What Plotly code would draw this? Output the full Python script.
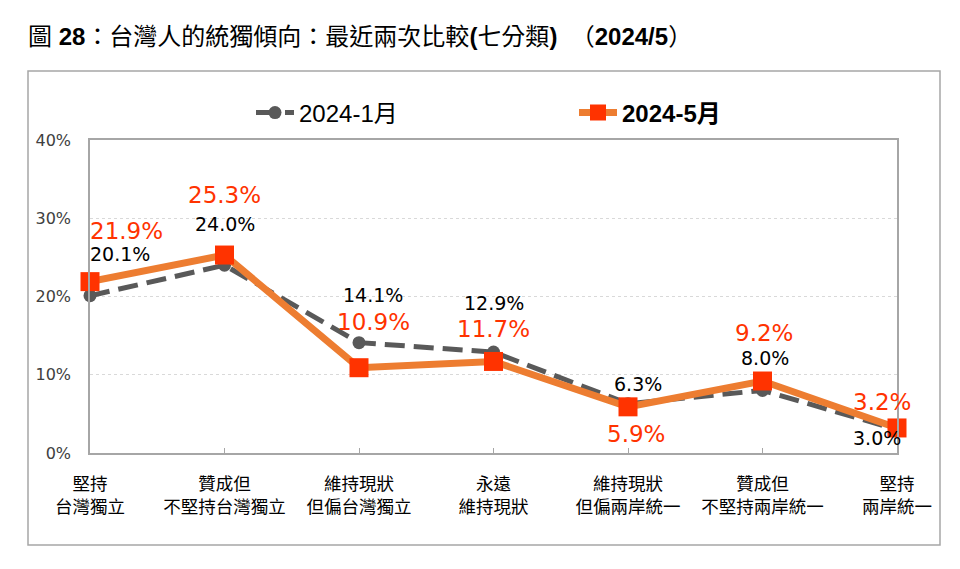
import plotly.graph_objects as go

# ---------------- data ----------------
categories_line1 = ["堅持", "贊成但", "維持現狀", "永遠", "維持現狀", "贊成但", "堅持"]
categories_line2 = ["台灣獨立", "不堅持台灣獨立", "但偏台灣獨立", "維持現狀", "但偏兩岸統一", "不堅持兩岸統一", "兩岸統一"]
series_names = ["2024-1月", "2024-5月"]
jan_values = [20.1, 24.0, 14.1, 12.9, 6.3, 8.0, 3.0]
may_values = [21.9, 25.3, 10.9, 11.7, 5.9, 9.2, 3.2]
y_tick_values = [0, 10, 20, 30, 40]
y_tick_labels = ["0%", "10%", "20%", "30%", "40%"]

# ---------------- styles ----------------
JAN_COLOR = "#595959"
MAY_LINE = "#ED7D31"
MAY_MARK = "#FF3300"
BOX = "#A6A6A6"
NUMFONT = "DejaVu Sans"
CJK = "Liberation Sans, Noto Sans CJK TC"

# label offsets (dx, dy) in pixels relative to the point
jan_offsets = [(30, 42), (0, 41), (14, 48), (0, 49), (10, 20), (2, 32), (-20, -8)]
may_offsets = [(36, 51), (0, 60), (14, 46), (0, 32), (8, -27), (1, 48), (-15, 26)]

xs = list(range(len(categories_line1)))
ticktext = [f"{a}<br>{b}" for a, b in zip(categories_line1, categories_line2)]

fig = go.Figure()
fig.add_trace(go.Scatter(
    x=xs, y=jan_values, name=series_names[0], mode="lines+markers",
    line=dict(color=JAN_COLOR, width=5, dash="20px,9px"),
    marker=dict(symbol="circle", size=13, color=JAN_COLOR),
    cliponaxis=False, legend="legend", showlegend=True,
))
fig.add_trace(go.Scatter(
    x=xs, y=may_values, name=f"<b>{series_names[1]}</b>", mode="lines+markers",
    line=dict(color=MAY_LINE, width=7),
    marker=dict(symbol="square", size=19, color=MAY_MARK),
    cliponaxis=False, legend="legend2", showlegend=True,
))

annotations = []
for x, v, (dx, dy) in zip(xs, jan_values, jan_offsets):
    annotations.append(dict(x=x, y=v, xref="x", yref="y", text=f"{v:.1f}%",
                            showarrow=False, xshift=dx, yshift=dy,
                            font=dict(family=NUMFONT, size=19, color="#000000")))
for x, v, (dx, dy) in zip(xs, may_values, may_offsets):
    annotations.append(dict(x=x, y=v, xref="x", yref="y", text=f"{v:.1f}%",
                            showarrow=False, xshift=dx, yshift=dy,
                            font=dict(family=NUMFONT, size=23, color=MAY_MARK)))

L, R, T, B = 90, 63, 140, 116
W, H = 960, 569
pw, ph = W - L - R, H - T - B

def px_to_paper_x(px):
    return (px - L) / pw

def px_to_paper_y(py):
    return (H - B - py) / ph

legend_common = dict(
    orientation="h", xanchor="left", yanchor="middle",
    font=dict(family=CJK, size=24, color="#000000"),
    bgcolor="rgba(0,0,0,0)", itemwidth=38, visible=True,
)

fig.update_layout(
    width=W, height=H,
    margin=dict(l=L, r=R, t=T, b=B),
    paper_bgcolor="white", plot_bgcolor="white",
    showlegend=True,
    title=dict(
        text="圖 <b>28</b>：台灣人的統獨傾向：最近兩次比較<b>(</b>七分類<b>)</b>\u00a0\u00a0（<b>2024/5</b>）",
        x=28 / W, xref="container", xanchor="left",
        y=1 - 37 / H, yref="container", yanchor="middle",
        font=dict(family=CJK, size=24, color="#000000"),
    ),
    legend=dict(x=px_to_paper_x(251), y=px_to_paper_y(113), **legend_common),
    legend2=dict(x=px_to_paper_x(574), y=px_to_paper_y(113), **legend_common),
    xaxis=dict(
        range=[0, 6], tickmode="array", tickvals=xs, ticktext=ticktext,
        ticks="inside", ticklen=5, tickcolor=BOX, tickwidth=1,
        showline=True, linecolor=BOX, linewidth=1.5, mirror=True,
        showgrid=False, zeroline=False,
        tickfont=dict(family="Noto Sans CJK TC", size=17.5, color="#000000"),
        ticklabelstandoff=14,
    ),
    yaxis=dict(
        range=[0, 40], tickmode="array", tickvals=y_tick_values, ticktext=y_tick_labels,
        showgrid=True, gridcolor="#D9D9D9", griddash="dot", gridwidth=1,
        showline=True, linecolor=BOX, linewidth=1.5, mirror=True,
        zeroline=False, ticks="",
        tickfont=dict(family=NUMFONT, size=16, color="#404040"),
        ticklabelstandoff=14,
    ),
    annotations=annotations,
    shapes=[dict(
        type="rect", xref="paper", yref="paper",
        x0=px_to_paper_x(28), x1=px_to_paper_x(940),
        y0=px_to_paper_y(545), y1=px_to_paper_y(71),
        line=dict(color=BOX, width=1.5), fillcolor="rgba(0,0,0,0)", layer="below",
    )],
)

fig.write_html(
    "out.html",
    config={"displayModeBar": False},
    post_script="document.body.style.margin='0';document.body.style.overflow='hidden';",
)
